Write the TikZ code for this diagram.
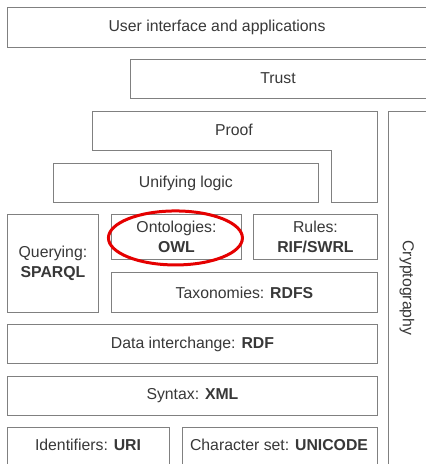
\documentclass[tikz,border=0pt]{standalone}
\usepackage{fontspec}
\setmainfont{Liberation Sans}
\begin{document}
\begin{tikzpicture}[x=1pt,y=-1pt,
  txt/.style={text=black!78, font=\fontsize{15.8}{19.5}\selectfont, align=center, inner sep=0pt},
  layer/.style={txt, draw=black!50, line width=0.9pt, fill=white},
  hl/.style={draw=red!90!black, line width=3pt}]
\useasboundingbox (0,0) rectangle (426,464);
\clip (0,0) rectangle (426,464);
% helper: box from corner (x1,y1) to (x2,y2)
\newcommand{\layerbox}[6][]{%
  \node[layer,#1, minimum width={#4-#2}, minimum height={#5-#3}, anchor=north west] at (#2,#3) {#6};}
\layerbox[name=ui]{7}{7}{440}{47}{}
\node[txt] (uit) at (217,27) {User interface and applications};
\layerbox[name=trust]{130}{59}{440}{98}{}
\node[txt] (trt) at (278,78) {Trust};
% proof layer: stepped outline
\draw[draw=black!50, line width=0.9pt] (92,111) -- (377,111) -- (377,202) -- (331,202) -- (331,150) -- (92,150) -- cycle;
\node[txt] (prf) at (234,130) {Proof};
% cryptography column
\layerbox[name=crypto]{388}{111}{440}{480}{}
\node[txt, rotate=-90] (cry) at (407,288) {Cryptography};
\layerbox[name=logic]{53}{163}{318}{202}{Unifying logic}
\layerbox[name=query]{7}{214}{98}{312}{Querying:\\\textbf{SPARQL}}
\layerbox[name=onto]{111}{214}{241}{259}{Ontologies:\\\textbf{OWL}}
\layerbox[name=rules]{253}{214}{377}{259}{Rules:\\\textbf{RIF/SWRL}}
\layerbox[name=rdfs]{111}{272}{377}{312}{Taxonomies: \textbf{RDFS}}
\layerbox[name=rdf]{7}{324}{377}{363}{Data interchange: \textbf{RDF}}
\layerbox[name=xml]{7}{376}{377}{415}{Syntax: \textbf{XML}}
\layerbox[name=uri]{7}{427}{169}{480}{}
\node[txt] (urit) at (88,445) {Identifiers: \textbf{URI}};
\layerbox[name=uni]{182}{427}{377}{480}{}
\node[txt] (unit) at (279,445) {Character set: \textbf{UNICODE}};
% highlight around the ontology layer
\draw[hl] (onto.center) ++(-1,1) ellipse [x radius=67, y radius=27];
\end{tikzpicture}
\end{document}
